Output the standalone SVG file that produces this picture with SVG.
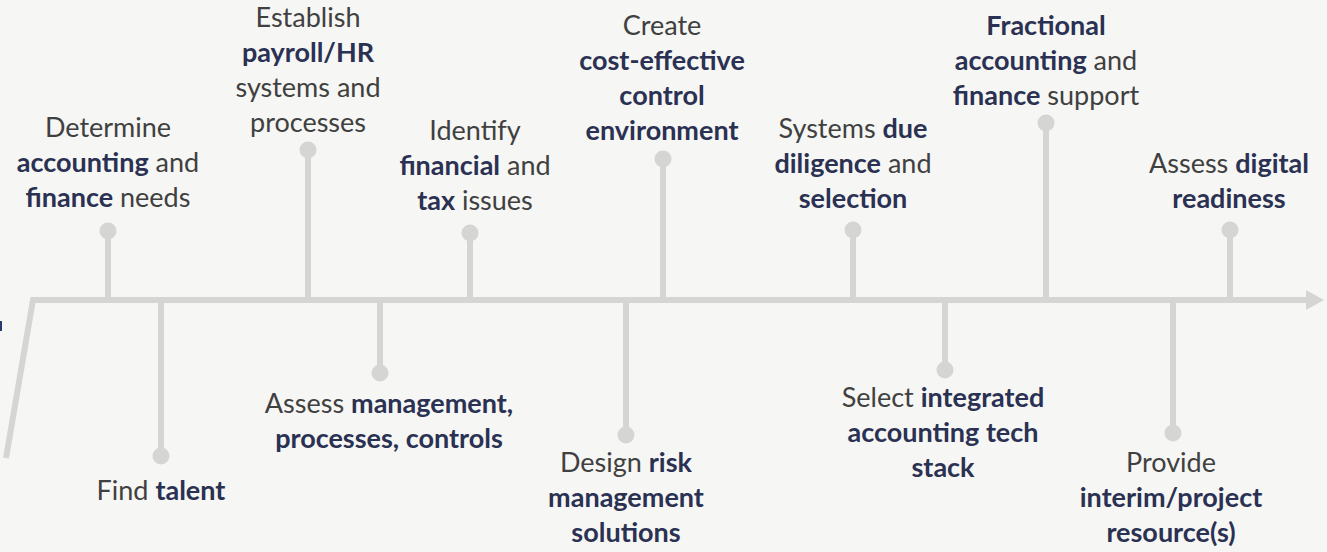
<svg xmlns="http://www.w3.org/2000/svg" width="1327" height="552" viewBox="0 0 1327 552">
<style>
.bg{fill:#f6f6f4}
.ln{stroke:#d5d5d4;stroke-width:6;fill:none}
.dot{fill:#d5d5d4}
text{font-family:Lato,"Liberation Sans",sans-serif;font-size:27px;fill:#404040;text-anchor:middle}
.b{font-weight:bold;fill:#2a3152}
</style>
<defs>
<marker id="arr" viewBox="0 0 18 20" refX="0" refY="10" markerWidth="18" markerHeight="20" markerUnits="userSpaceOnUse" orient="auto">
<path d="M0,0 L18,10 L0,20 Z" fill="#d5d5d4"/>
</marker>
</defs>
<rect class="bg" x="0" y="0" width="1327" height="552"/>
<rect x="0" y="321" width="2" height="10" fill="#2a3a70"/>
<g id="connectors">
<path class="ln" d="M6,458 L33,300 L1306,300" marker-end="url(#arr)"/>
<line class="ln" x1="108" y1="231" x2="108" y2="300"/>
<line class="ln" x1="308" y1="150" x2="308" y2="300"/>
<line class="ln" x1="470" y1="233" x2="470" y2="300"/>
<line class="ln" x1="663" y1="159" x2="663" y2="300"/>
<line class="ln" x1="853" y1="230" x2="853" y2="300"/>
<line class="ln" x1="1046" y1="123" x2="1046" y2="300"/>
<line class="ln" x1="1230" y1="230" x2="1230" y2="300"/>
<line class="ln" x1="161" y1="300" x2="161" y2="456"/>
<line class="ln" x1="380" y1="300" x2="380" y2="373"/>
<line class="ln" x1="626" y1="300" x2="626" y2="435"/>
<line class="ln" x1="945" y1="300" x2="945" y2="370"/>
<line class="ln" x1="1173" y1="300" x2="1173" y2="433"/>
</g>
<g id="n1"><circle class="dot" cx="108" cy="231" r="8.5"/>
<text x="108" y="137">Determine</text>
<text x="108" y="172"><tspan class="b">accounting</tspan> and</text>
<text x="108" y="207"><tspan class="b">finance</tspan> needs</text></g>
<g id="n2"><circle class="dot" cx="161" cy="456" r="8.5"/>
<text x="161" y="500">Find <tspan class="b">talent</tspan></text></g>
<g id="n3"><circle class="dot" cx="308" cy="150" r="8.5"/>
<text x="308" y="27">Establish</text>
<text x="308" y="62" class="b">payroll/HR</text>
<text x="308" y="97">systems and</text>
<text x="308" y="132">processes</text></g>
<g id="n4"><circle class="dot" cx="380" cy="373" r="8.5"/>
<text x="389" y="413">Assess <tspan class="b">management,</tspan></text>
<text x="389" y="448" class="b">processes, controls</text></g>
<g id="n5"><circle class="dot" cx="470" cy="233" r="8.5"/>
<text x="475" y="140">Identify</text>
<text x="475" y="175"><tspan class="b">financial</tspan> and</text>
<text x="475" y="210"><tspan class="b">tax</tspan> issues</text></g>
<g id="n6"><circle class="dot" cx="626" cy="435" r="8.5"/>
<text x="626" y="472">Design <tspan class="b">risk</tspan></text>
<text x="626" y="507" class="b">management</text>
<text x="626" y="542" class="b">solutions</text></g>
<g id="n7"><circle class="dot" cx="663" cy="159" r="8.5"/>
<text x="662" y="35">Create</text>
<text x="662" y="70" class="b">cost-effective</text>
<text x="662" y="105" class="b">control</text>
<text x="662" y="140" class="b">environment</text></g>
<g id="n8"><circle class="dot" cx="853" cy="230" r="8.5"/>
<text x="853" y="138">Systems <tspan class="b">due</tspan></text>
<text x="853" y="173"><tspan class="b">diligence</tspan> and</text>
<text x="853" y="208" class="b">selection</text></g>
<g id="n9"><circle class="dot" cx="945" cy="370" r="8.5"/>
<text x="943" y="407">Select <tspan class="b">integrated</tspan></text>
<text x="943" y="442" class="b">accounting tech</text>
<text x="943" y="477" class="b">stack</text></g>
<g id="n10"><circle class="dot" cx="1046" cy="123" r="8.5"/>
<text x="1046" y="35" class="b">Fractional</text>
<text x="1046" y="70"><tspan class="b">accounting</tspan> and</text>
<text x="1046" y="105"><tspan class="b">finance</tspan> support</text></g>
<g id="n11"><circle class="dot" cx="1173" cy="433" r="8.5"/>
<text x="1171" y="472">Provide</text>
<text x="1171" y="507" class="b">interim/project</text>
<text x="1171" y="542" class="b">resource(s)</text></g>
<g id="n12"><circle class="dot" cx="1230" cy="230" r="8.5"/>
<text x="1229" y="173">Assess <tspan class="b">digital</tspan></text>
<text x="1229" y="208" class="b">readiness</text></g>
</svg>
